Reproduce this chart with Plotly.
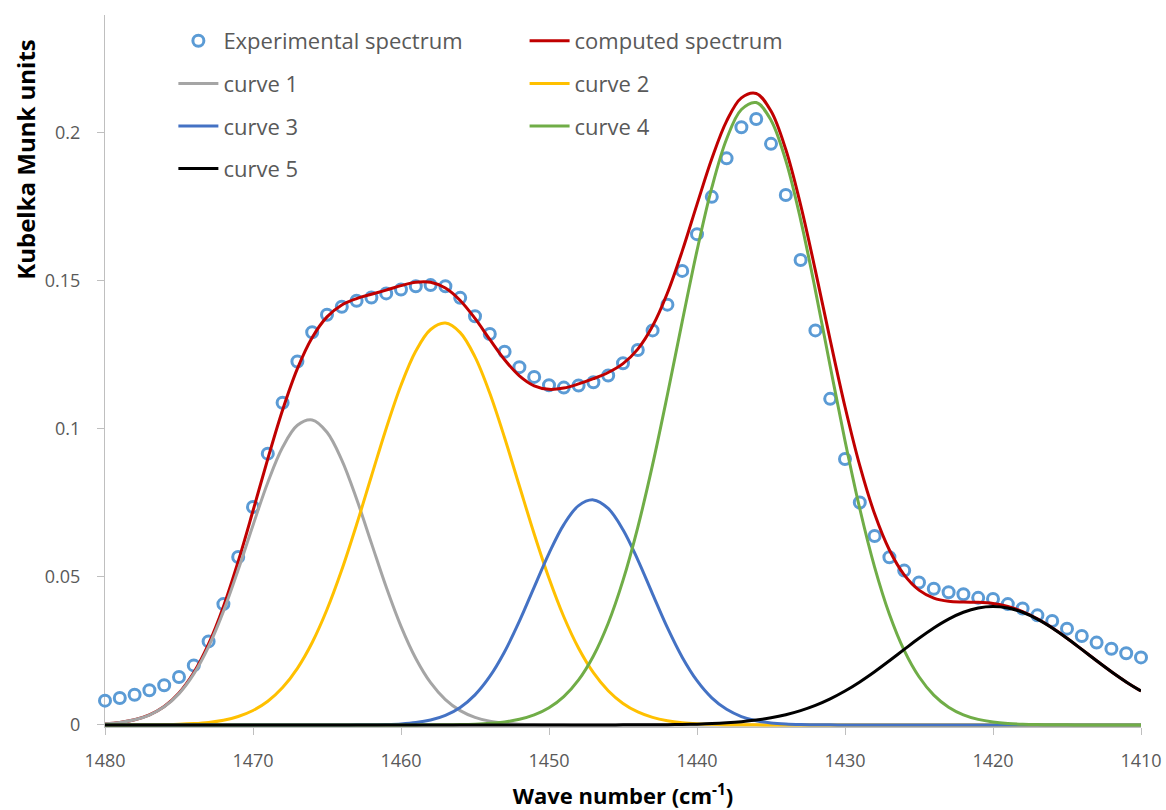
import plotly.graph_objects as go

# Wave numbers (cm-1), one sample per unit from 1480 down to 1410
wavenumber = list(range(1480, 1409, -1))

experimental = [
    0.0082, 0.0091, 0.0102, 0.0117, 0.0134, 0.0162, 0.0201, 0.0282, 0.0408, 0.0567,
    0.0736, 0.0916, 0.1088, 0.1227, 0.1326, 0.1385, 0.1412, 0.1432, 0.1443, 0.1457,
    0.1470, 0.1481, 0.1485, 0.1481, 0.1442, 0.1380, 0.1320, 0.1260, 0.1208, 0.1175,
    0.1147, 0.1139, 0.1146, 0.1157, 0.1180, 0.1221, 0.1266, 0.1332, 0.1419, 0.1533,
    0.1657, 0.1783, 0.1913, 0.2018, 0.2046, 0.1962, 0.1789, 0.1570, 0.1332, 0.1101,
    0.0898, 0.0751, 0.0638, 0.0566, 0.0521, 0.0481, 0.0460, 0.0448, 0.0441, 0.0429,
    0.0425, 0.0408, 0.0393, 0.0370, 0.0351, 0.0325, 0.0300, 0.0278, 0.0257, 0.0242,
    0.0228,
]

computed = [
    0.00038, 0.00084, 0.00174, 0.00339, 0.00622, 0.01079, 0.01768, 0.02733, 0.03994, 0.05521,
    0.07230, 0.08986, 0.10634, 0.12029, 0.13081, 0.13778, 0.14180, 0.14396, 0.14540, 0.14681,
    0.14832, 0.14948, 0.14947, 0.14751, 0.14332, 0.13725, 0.13015, 0.12331, 0.11785, 0.11449,
    0.11330, 0.11375, 0.11514, 0.11690, 0.11899, 0.12199, 0.12689, 0.13467, 0.14583, 0.15997,
    0.17575, 0.19117, 0.20388, 0.21173, 0.21321, 0.20729, 0.19428, 0.17560, 0.15339, 0.12995,
    0.10743, 0.08753, 0.07128, 0.05907, 0.05067, 0.04553, 0.04283, 0.04174, 0.04148, 0.04138,
    0.04099, 0.04000, 0.03829, 0.03585, 0.03280, 0.02929, 0.02551, 0.02168, 0.01797, 0.01453,
    0.01146,
]

curve_1 = [
    0.00038, 0.00083, 0.00172, 0.00334, 0.00611, 0.01057, 0.01723, 0.02647, 0.03834, 0.05236,
    0.06743, 0.08187, 0.09373, 0.10118, 0.10298, 0.09882, 0.08942, 0.07629, 0.06138, 0.04655,
    0.03328, 0.02244, 0.01427, 0.00856, 0.00484, 0.00258, 0.00129, 0.00061, 0.00027, 0.00012,
    0.00005, 0.00002, 0.00001, 0, 0, 0, 0, 0, 0, 0,
    0, 0, 0, 0, 0, 0, 0, 0, 0, 0,
    0, 0, 0, 0, 0, 0, 0, 0, 0, 0,
    0, 0, 0, 0, 0, 0, 0, 0, 0, 0,
    0,
]

curve_2 = [
    0.0, 0.00001, 0.00002, 0.00005, 0.00011, 0.00022, 0.00045, 0.00086, 0.00160, 0.00285,
    0.00487, 0.00799, 0.01261, 0.01911, 0.02783, 0.03896, 0.05237, 0.06765, 0.08396, 0.10011,
    0.11469, 0.12624, 0.13352, 0.13567, 0.13245, 0.12425, 0.11197, 0.09696, 0.08066, 0.06447,
    0.04952, 0.03653, 0.02590, 0.01764, 0.01155, 0.00726, 0.00439, 0.00255, 0.00142, 0.00076,
    0.00039, 0.00019, 0.00009, 0.00004, 0.00002, 0.00001, 0, 0, 0, 0,
    0, 0, 0, 0, 0, 0, 0, 0, 0, 0,
    0, 0, 0, 0, 0, 0, 0, 0, 0, 0,
    0,
]

curve_3 = [
    0, 0, 0, 0, 0, 0, 0, 0, 0, 0,
    0, 0, 0, 0, 0, 0, 0.00001, 0.00002, 0.00006, 0.00015,
    0.00035, 0.00079, 0.00165, 0.00322, 0.00590, 0.01015, 0.01636, 0.02472, 0.03503, 0.04653,
    0.05794, 0.06764, 0.07404, 0.07598, 0.07309, 0.06592, 0.05574, 0.04419, 0.03284, 0.02288,
    0.01495, 0.00916, 0.00526, 0.00283, 0.00143, 0.00068, 0.00030, 0.00012, 0.00005, 0.00002,
    0.00001, 0, 0, 0, 0, 0, 0, 0, 0, 0,
    0, 0, 0, 0, 0, 0, 0, 0, 0, 0,
    0,
]

curve_4 = [
    0, 0, 0, 0, 0, 0, 0, 0, 0, 0,
    0, 0, 0, 0, 0, 0, 0, 0, 0, 0,
    0, 0.00001, 0.00003, 0.00006, 0.00013, 0.00027, 0.00053, 0.00102, 0.00189, 0.00337,
    0.00579, 0.00956, 0.01520, 0.02328, 0.03434, 0.04879, 0.06673, 0.08788, 0.11148, 0.13617,
    0.16014, 0.18138, 0.19783, 0.20778, 0.21013, 0.20420, 0.19053, 0.17064, 0.14673, 0.12111,
    0.09596, 0.07300, 0.05331, 0.03739, 0.02517, 0.01626, 0.01008, 0.00600, 0.00343, 0.00188,
    0.00099, 0.00050, 0.00024, 0.00011, 0.00005, 0.00002, 0.00001, 0, 0, 0,
    0,
]

curve_5 = [
    0, 0, 0, 0, 0, 0, 0, 0, 0, 0,
    0, 0, 0, 0, 0, 0, 0, 0, 0, 0,
    0, 0, 0, 0, 0, 0, 0, 0, 0, 0,
    0, 0, 0, 0, 0.00001, 0.00002, 0.00003, 0.00005, 0.00009, 0.00016,
    0.00027, 0.00044, 0.00070, 0.00108, 0.00163, 0.00240, 0.00345, 0.00484, 0.00661, 0.00882,
    0.01146, 0.01453, 0.01797, 0.02168, 0.02550, 0.02927, 0.03275, 0.03574, 0.03805, 0.03950,
    0.04000, 0.03950, 0.03805, 0.03574, 0.03275, 0.02927, 0.02550, 0.02168, 0.01797, 0.01453,
    0.01146,
]

x_ticks = [1480, 1470, 1460, 1450, 1440, 1430, 1420, 1410]
y_ticks = [0, 0.05, 0.1, 0.15, 0.2]
y_tick_text = ["0", "0.05", "0.1", "0.15", "0.2"]
y_range = [-0.0007, 0.2397]

FONT = "Open Sans, Liberation Sans, sans-serif"
TEXT_GREY = "#595959"
AXIS_GREY = "#bfbfbf"

fig = go.Figure()

fig.add_trace(go.Scatter(
    x=wavenumber, y=experimental, name="Experimental spectrum", mode="markers",
    marker=dict(symbol="circle-open", size=11, color="#5b9bd5", line=dict(width=3, color="#5b9bd5")),
    cliponaxis=False, legend="legend", legendgroup="a",
))
fig.add_trace(go.Scatter(
    x=wavenumber, y=computed, name="computed spectrum", mode="lines", line_shape="spline",
    line=dict(color="#c00000", width=3), legend="legend2", legendgroup="b",
))

curves = [
    ("curve 1", curve_1, "#a5a5a5", "legend", "c"),
    ("curve 2", curve_2, "#ffc000", "legend2", "d"),
    ("curve 3", curve_3, "#4472c4", "legend", "e"),
    ("curve 4", curve_4, "#70ad47", "legend2", "f"),
    ("curve 5", curve_5, "#000000", "legend", "g"),
]
for name, values, color, leg, grp in curves:
    fig.add_trace(go.Scatter(
        x=wavenumber, y=values, name=name, mode="lines", line_shape="spline",
        line=dict(color=color, width=3), legend=leg, legendgroup=grp,
    ))

legend_common = dict(
    orientation="v", yanchor="top", xanchor="left", bgcolor="rgba(0,0,0,0)",
    font=dict(family=FONT, size=22, color=TEXT_GREY), tracegroupgap=11,
    itemwidth=40,
)

fig.update_layout(
    width=1166, height=810,
    margin=dict(l=105, r=25, t=15, b=83),
    paper_bgcolor="white", plot_bgcolor="white",
    font=dict(family=FONT, color=TEXT_GREY),
    legend=dict(x=0.066, y=0.993, **legend_common),
    legend2=dict(x=0.405, y=0.993, **legend_common),
    xaxis=dict(
        range=[1480, 1410], tickvals=x_ticks, ticks="outside", ticklen=7,
        tickcolor=AXIS_GREY, showline=True, linecolor=AXIS_GREY, linewidth=1,
        showgrid=False, zeroline=False, layer="below traces", ticklabelstandoff=10,
        automargin=False,
        tickfont=dict(family=FONT, size=18, color=TEXT_GREY),
        title=dict(text="<b>Wave number (cm<sup>-1</sup>)</b>",
                   font=dict(family=FONT, size=22, color="#000000"), standoff=18),
    ),
    yaxis=dict(
        range=y_range, tickvals=y_ticks, ticktext=y_tick_text,
        ticks="outside", ticklen=7, tickcolor=AXIS_GREY, showline=True,
        linecolor=AXIS_GREY, linewidth=1, showgrid=False, zeroline=False,
        layer="below traces", ticklabelstandoff=13, automargin=False,
        tickfont=dict(family=FONT, size=18, color=TEXT_GREY),
    ),
    # companion axes carrying inward tick marks so the ticks cross the axis lines
    xaxis2=dict(
        overlaying="x", anchor="y", side="bottom", range=[1480, 1410], tickvals=x_ticks,
        ticks="inside", ticklen=7, tickcolor=AXIS_GREY, showticklabels=False,
        showline=False, showgrid=False, zeroline=False, layer="below traces",
        automargin=False,
    ),
    yaxis2=dict(
        overlaying="y", anchor="x", side="left", range=y_range, tickvals=y_ticks,
        ticks="inside", ticklen=7, tickcolor=AXIS_GREY, showticklabels=False,
        showline=False, showgrid=False, zeroline=False, layer="below traces",
        automargin=False,
    ),
)

# y-axis title sits high on the left edge
fig.add_annotation(
    text="<b>Kubelka Munk units</b>", textangle=-90,
    xref="paper", yref="paper", x=-0.077, y=0.797, xanchor="center", yanchor="middle",
    showarrow=False, font=dict(family=FONT, size=24, color="#000000"),
)

fig.write_html("out.html")
